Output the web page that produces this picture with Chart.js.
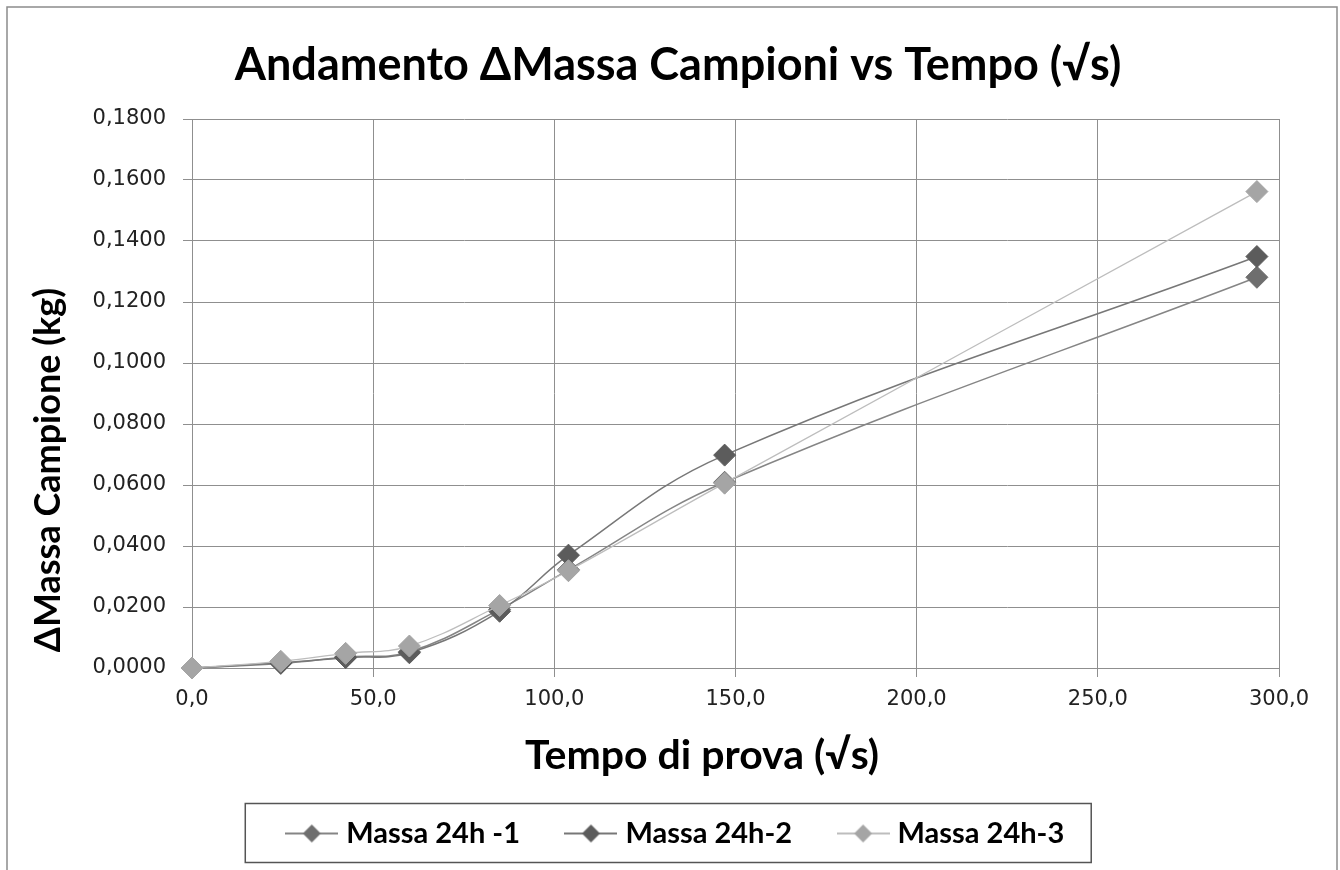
<!DOCTYPE html>
<html>
<head>
<meta charset="utf-8">
<script src="https://cdn.jsdelivr.net/npm/chart.js@4.4.0/dist/chart.umd.min.js"></script>
<style>
  html, body { margin: 0; padding: 0; background: #fff; }
  canvas { display: block; }
</style>
</head>
<body>
<canvas id="myChart" width="1340" height="870"></canvas>
<script>
// tempo di prova (radice dei secondi) e variazione di massa (kg)
const tempo = [0, 24.5, 42.4, 60.0, 84.9, 103.9, 147.0, 293.9];
const massa1 = [0, 0.0015, 0.0036, 0.0053, 0.0192, 0.0322, 0.0609, 0.1281];
const massa2 = [0, 0.0017, 0.0034, 0.0050, 0.0186, 0.0370, 0.0698, 0.1349];
const massa3 = [0, 0.0022, 0.0048, 0.0072, 0.0205, 0.0319, 0.0606, 0.1562];
const seriesNames = ["Massa 24h -1", "Massa 24h-2", "Massa 24h-3"];
const xTickValues = [0, 50, 100, 150, 200, 250, 300];
const yTickValues = [0, 0.02, 0.04, 0.06, 0.08, 0.1, 0.12, 0.14, 0.16, 0.18];

const titleText = "Andamento \u0394Massa Campioni vs Tempo (\u221As)";
const xTitle = "Tempo di prova (\u221As)";
const yTitle = "\u0394Massa Campione (kg)";

const lineColors = ["#858585", "#777777", "#bdbdbd"];
const markerColors = ["#6e6e6e", "#5c5c5c", "#a5a5a5"];
const gridColor = "#8f8f8f";

function points(ys) {
  return tempo.map((t, i) => ({ x: t, y: ys[i] }));
}

// legend icon: short line with a diamond in the middle
function makeIcon(lineCol, markCol) {
  const c = document.createElement("canvas");
  c.width = 53;
  c.height = 22;
  const g = c.getContext("2d");
  g.strokeStyle = lineCol;
  g.lineWidth = 2;
  g.beginPath();
  g.moveTo(0, 11);
  g.lineTo(53, 11);
  g.stroke();
  g.fillStyle = markCol;
  g.beginPath();
  g.moveTo(26.5, 2);
  g.lineTo(35.5, 11);
  g.lineTo(26.5, 20);
  g.lineTo(17.5, 11);
  g.closePath();
  g.fill();
  return c;
}
const legendIcons = [0, 1, 2].map(i => makeIcon(lineColors[i], markerColors[i]));

const frame = {
  id: "frame",
  beforeDraw(chart) {
    const ctx = chart.ctx;
    ctx.save();
    ctx.fillStyle = "#fff";
    ctx.fillRect(0, 0, chart.width, chart.height);
    ctx.strokeStyle = "#8c8c8c";
    ctx.lineWidth = 1.5;
    ctx.strokeRect(7, 7, 1330, 900);
    ctx.restore();
  },
  afterDraw(chart) {
    const ctx = chart.ctx;
    ctx.save();
    ctx.fillStyle = "#000";
    ctx.textAlign = "center";
    ctx.textBaseline = "middle";
    ctx.font = "bold 41px Lato";
    ctx.fillText(xTitle, 702, 756);
    ctx.font = "bold 36px Lato";
    ctx.translate(48, 470);
    ctx.rotate(-Math.PI / 2);
    ctx.fillText(yTitle, 0, 0);
    ctx.restore();

    // box round the legend
    const hb = chart.legend.legendHitBoxes;
    if (hb && hb.length) {
      const first = hb[0], last = hb[hb.length - 1];
      const cy = first.top + first.height / 2;
      ctx.save();
      ctx.strokeStyle = "#555";
      ctx.lineWidth = 1.5;
      const l = first.left - 6.5 - 40, r = last.left + last.width + 27;
      ctx.strokeRect(l, cy - 30, r - l, 59);
      ctx.restore();
    }
  }
};

Chart.defaults.font.family = "'DejaVu Sans'";

const ctx = document.getElementById("myChart").getContext("2d");
const myChart = new Chart(ctx, {
  type: "line",
  data: {
    datasets: [massa1, massa2, massa3].map((ys, i) => ({
      label: seriesNames[i],
      data: points(ys),
      borderColor: lineColors[i],
      borderWidth: i === 2 ? 1.3 : 1.5,
      backgroundColor: markerColors[i],
      pointStyle: "rectRot",
      pointRadius: 11,
      pointHoverRadius: 11,
      pointBackgroundColor: markerColors[i],
      pointBorderColor: markerColors[i],
      pointBorderWidth: 1,
      tension: 0.4,
      fill: false,
      clip: false,
      order: [3, 2, 1][i],
    })),
  },
  options: {
    responsive: false,
    animation: false,
    devicePixelRatio: 1,
    layout: { padding: { left: 77, right: 61, top: 0, bottom: 12 } },
    plugins: {
      title: {
        display: true,
        text: titleText,
        color: "#000",
        font: { family: "Lato", size: 45, weight: "bold", lineHeight: 1.2 },
        padding: { top: 38, bottom: 27 },
      },
      legend: {
        position: "bottom",
        labels: {
          usePointStyle: true,
          pointStyleWidth: 40,
          padding: 51,
          color: "#000",
          font: { family: "Lato", size: 29, weight: "bold" },
          generateLabels: (chart) =>
            chart.data.datasets.map((ds, i) => ({
              text: ds.label,
              pointStyle: legendIcons[i],
              fillStyle: markerColors[i],
              strokeStyle: markerColors[i],
              lineWidth: 0,
              hidden: false,
              datasetIndex: i,
            })),
        },
      },
      tooltip: { enabled: false },
    },
    scales: {
      x: {
        type: "linear",
        min: xTickValues[0],
        max: xTickValues[xTickValues.length - 1],
        afterBuildTicks: (s) => { s.ticks = xTickValues.map(v => ({ value: v })); },
        afterFit: (s) => { s.height = 100; },
        grid: { color: gridColor, lineWidth: 1, tickLength: 9, drawTicks: true },
        border: { color: gridColor, width: 1 },
        ticks: {
          color: "#222",
          font: { size: 21 },
          padding: 10,
          maxRotation: 0,
          callback: (v) => v.toFixed(1).replace(".", ","),
        },
      },
      y: {
        type: "linear",
        min: yTickValues[0],
        max: yTickValues[yTickValues.length - 1],
        afterBuildTicks: (s) => { s.ticks = yTickValues.map(v => ({ value: v })); },
        afterFit: (s) => { s.width = 115; },
        grid: { color: gridColor, lineWidth: 1, tickLength: 9 },
        border: { color: gridColor, width: 1 },
        ticks: {
          color: "#222",
          font: { size: 21 },
          padding: 17,
          callback: (v) => v.toFixed(4).replace(".", ","),
        },
      },
    },
  },
  plugins: [frame],
});
</script>
</body>
</html>
